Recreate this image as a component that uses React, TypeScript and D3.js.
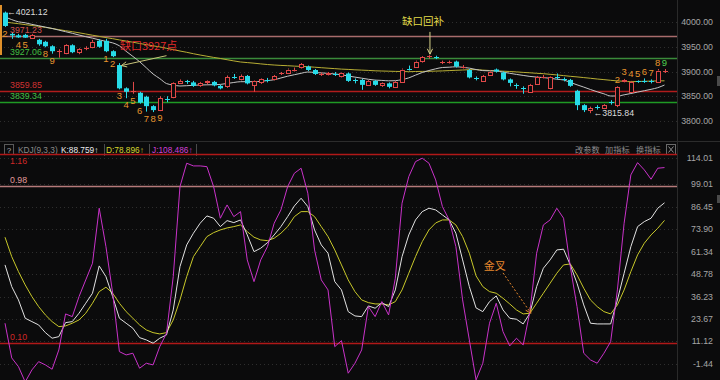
import React from 'react';
import * as d3 from 'd3';

// ---------- candles (index 0..98) ----------
const opens = [
  4019, 3976, 3973, 3974, 3968, 3964, 3960, 3951, 3941, 3937,
  3953, 3938, 3946, 3949, 3962, 3962, 3941, 3913, 3866, 3859,
  3857, 3849, 3830, 3822, 3845, 3848, 3877, 3880, 3878, 3872,
  3877, 3879, 3871, 3869, 3889, 3884, 3891, 3873, 3877, 3883,
  3884, 3895, 3898, 3903, 3908, 3910, 3903, 3894, 3894, 3895,
  3890, 3896, 3882, 3883, 3873, 3881, 3871, 3876, 3869, 3879,
  3906, 3910, 3920, 3930, 3930, 3918, 3918, 3920, 3909, 3903,
  3887, 3881, 3893, 3904, 3898, 3884, 3872, 3867, 3859, 3875,
  3888, 3866, 3889, 3885, 3883, 3861, 3832, 3822, 3828, 3826,
  3838, 3832, 3880, 3859, 3880, 3881, 3880, 3879, 3900,
];
const highs = [
  4021.12, 3980, 3976, 3976, 3976, 3966, 3962, 3953, 3945, 3955,
  3955, 3947, 3951, 3964, 3965, 3966, 3943, 3917, 3868, 3879,
  3859, 3851, 3832, 3850, 3850, 3878, 3884, 3883, 3881, 3879,
  3882, 3881, 3873, 3892, 3895, 3894, 3893, 3882, 3886, 3887,
  3893, 3899, 3906, 3908, 3917, 3912, 3905, 3898, 3899, 3899,
  3898, 3898, 3886, 3885, 3883, 3883, 3878, 3878, 3881, 3906,
  3912, 3922, 3931, 3933, 3932, 3922, 3922, 3922, 3913, 3905,
  3890, 3893, 3902, 3906, 3900, 3886, 3876, 3870, 3875, 3891,
  3893, 3890, 3896, 3888, 3885, 3863, 3834, 3829, 3832, 3834,
  3842, 3870, 3885, 3881, 3882, 3886, 3884, 3905, 3905,
];
const lows = [
  3990, 3966, 3968, 3968, 3966, 3952, 3949, 3936, 3928, 3935,
  3937, 3935, 3943, 3947, 3948, 3939, 3929, 3864, 3846, 3855,
  3835, 3819, 3818, 3820, 3838, 3846, 3875, 3875, 3869, 3869,
  3874, 3870, 3864, 3867, 3885, 3882, 3874, 3859, 3875, 3878,
  3882, 3893, 3896, 3900, 3906, 3901, 3893, 3891, 3892, 3891,
  3888, 3879, 3876, 3863, 3871, 3871, 3869, 3866, 3867, 3877,
  3902, 3908, 3918, 3926, 3925, 3915, 3916, 3908, 3906, 3886,
  3882, 3879, 3891, 3898, 3882, 3870, 3865, 3855, 3857, 3873,
  3886, 3864, 3884, 3880, 3869, 3822, 3818, 3815.84, 3823, 3824,
  3833, 3828, 3878, 3857, 3877, 3877, 3876, 3877, 3897,
];
const closes = [
  3992, 3973, 3969, 3968.5, 3974, 3955, 3951, 3941, 3942, 3953,
  3939, 3945, 3947, 3960, 3950, 3941, 3931, 3866, 3859, 3860,
  3837, 3830, 3822, 3846, 3844, 3876, 3881, 3879, 3871, 3877,
  3880, 3872, 3866, 3888, 3888, 3891, 3876, 3881, 3884, 3882,
  3891, 3897, 3904, 3904, 3915, 3903, 3895, 3895, 3897, 3894,
  3896, 3881, 3881, 3873, 3881, 3873, 3876, 3869, 3879, 3904,
  3905, 3920, 3929, 3931, 3929, 3920, 3920, 3910, 3910, 3888,
  3886, 3891, 3900, 3900, 3884, 3877, 3871, 3866, 3873, 3889,
  3889, 3888, 3888, 3884, 3871, 3832, 3822, 3826, 3827, 3832,
  3836, 3868, 3883, 3879, 3879, 3880, 3879, 3902, 3901,
];

// ---------- moving averages ----------
const maShort = [
  4010.1, 4004.8, 4000.4, 3998.4, 3995.2, 3992.5, 3989.7, 3986.9, 3983.6, 3980.4,
  3977.2, 3973.7, 3970.3, 3967.3, 3964.0, 3960.8, 3957.8, 3951.9, 3940.8, 3930.5,
  3919.8, 3907.5, 3895.0, 3885.7, 3875.6, 3872.7, 3870.7, 3871.3, 3872.1, 3872.7,
  3873.1, 3873.3, 3873.9, 3875.8, 3877.8, 3879.4, 3879.4, 3879.4, 3880.2, 3881.6,
  3883.4, 3886.9, 3890.5, 3893.5, 3896.4, 3899.0, 3898.0, 3897.2, 3896.2, 3895.0,
  3893.5, 3890.9, 3888.7, 3886.5, 3884.3, 3882.6, 3882.0, 3881.2, 3881.4, 3883.8,
  3887.1, 3892.7, 3898.0, 3902.0, 3905.4, 3908.1, 3908.7, 3909.5, 3908.5, 3906.8,
  3904.0, 3901.8, 3901.4, 3901.0, 3898.8, 3896.4, 3894.1, 3892.1, 3890.1, 3888.7,
  3887.7, 3886.3, 3884.4, 3882.8, 3878.0, 3873.1, 3868.5, 3863.6, 3859.0, 3854.9,
  3850.5, 3850.5, 3852.9, 3855.5, 3858.4, 3861.2, 3864.0, 3867.3, 3872.7,
];
const maLong = [
  4000.0, 3998.2, 3996.6, 3994.7, 3992.9, 3991.3, 3989.1, 3986.9, 3984.6, 3982.4,
  3980.4, 3978.2, 3975.8, 3973.3, 3970.9, 3968.5, 3966.3, 3963.8, 3961.4, 3959.2,
  3956.6, 3954.3, 3951.9, 3949.7, 3946.9, 3944.2, 3941.4, 3938.8, 3935.9, 3933.3,
  3930.9, 3928.5, 3926.3, 3923.8, 3921.4, 3919.2, 3918.0, 3916.8, 3915.4, 3914.1,
  3913.1, 3912.3, 3911.7, 3910.9, 3910.3, 3909.7, 3908.7, 3907.7, 3906.7, 3905.8,
  3904.8, 3904.2, 3903.4, 3902.8, 3902.2, 3901.4, 3901.0, 3900.6, 3900.2, 3900.0,
  3899.6, 3900.0, 3900.2, 3900.4, 3900.8, 3901.2, 3901.8, 3902.4, 3903.0, 3903.6,
  3903.8, 3902.8, 3902.0, 3901.4, 3900.6, 3900.0, 3899.2, 3898.2, 3897.4, 3896.4,
  3895.6, 3894.3, 3893.1, 3891.7, 3890.3, 3889.1, 3887.7, 3886.3, 3884.8, 3883.6,
  3882.2, 3881.0, 3880.2, 3879.4, 3879.8, 3880.2, 3880.6, 3881.0, 3881.2,
];

// ---------- KDJ(9,3,3) ----------
const kVals = [
  53.98, 41.83, 34.38, 24.13, 22.23, 20.38, 16.07, 12.94, 13.83, 21.67,
  22.23, 26.93, 32.53, 38.13, 53.42, 47.42, 36.23, 24.13, 21.33, 18.53,
  13.27, 11.98, 10.14, 12.94, 14.78, 28.78, 53.02, 65.17, 71.72, 77.32,
  81.41, 80.12, 75.42, 78.78, 77.66, 79.17, 70.77, 61.42, 63.33, 66.46,
  70.77, 75.42, 81.02, 87.01, 91.32, 86.62, 73.57, 65.17, 60.53, 44.62,
  39.98, 27.83, 25.42, 25.03, 31.02, 29.73, 32.87, 30.63, 39.98, 58.62,
  70.77, 79.17, 83.82, 85.72, 84.77, 81.97, 79.17, 71.72, 56.78, 41.83,
  29.90, 27.83, 33.43, 36.62, 28.78, 24.13, 23.57, 20.94, 26.93, 41.83,
  52.13, 56.78, 62.37, 62.77, 53.98, 43.73, 31.58, 21.33, 20.94, 20.94,
  20.94, 34.38, 49.33, 64.22, 75.42, 78.22, 80.12, 85.72, 88.759,
];
const dVals = [
  69.49, 58.62, 50.22, 42.78, 36.23, 30.63, 25.98, 22.23, 19.43, 19.82,
  21.33, 23.18, 26.93, 32.53, 39.03, 41.49, 38.13, 32.53, 27.83, 24.13,
  20.38, 17.58, 16.07, 15.34, 16.07, 23.18, 34.38, 47.42, 58.62, 64.22,
  69.82, 72.06, 73.57, 74.69, 75.42, 76.37, 72.62, 69.49, 67.97, 67.58,
  68.93, 71.72, 75.42, 81.02, 83.82, 83.82, 81.02, 75.42, 69.82, 62.37,
  53.98, 45.58, 39.03, 34.38, 32.87, 32.14, 32.14, 31.58, 33.43, 39.98,
  49.33, 58.62, 67.02, 73.57, 77.49, 79.17, 79.17, 76.37, 69.82, 60.53,
  47.82, 41.83, 39.03, 38.13, 35.33, 32.14, 28.78, 26.54, 26.93, 32.53,
  38.13, 43.73, 49.33, 53.98, 54.54, 48.38, 40.93, 34.38, 30.63, 27.83,
  26.54, 31.58, 39.98, 50.22, 59.57, 66.13, 70.77, 74.52, 78.896,
];
const jVals = [
  21.33, 1.91, -2.97, -11.53, -4.81, -0.17, -2.01, -4.42, 6.38, 26.54,
  25.03, 36.23, 45.58, 54.93, 85.72, 64.22, 38.13, 5.43, 3.58, 4.54,
  -3.86, -1.06, -2.01, 8.23, 15.73, 47.42, 97.82, 110.92, 109.41, 109.41,
  109.01, 97.82, 80.12, 87.57, 81.02, 83.82, 56.78, 44.62, 56.78, 64.22,
  77.32, 84.77, 97.82, 105.32, 108.12, 94.12, 62.37, 45.58, 39.98, 8.23,
  11.59, -6.66, -1.06, 6.38, 30.63, 25.03, 33.43, 25.98, 46.53, 88.52,
  103.41, 111.81, 113.72, 110.92, 101.57, 86.62, 79.17, 64.22, 34.38, 11.98,
  -10.41, -1.06, 21.33, 32.53, 16.63, 8.62, 12.94, 9.18, 27.83, 60.53,
  76.37, 79.17, 85.72, 80.12, 53.02, 30.63, 4.54, 0.79, -1.06, 4.54,
  11.03, 39.98, 77.32, 104.37, 111.25, 107.17, 101.96, 108.12, 108.486,
];

// ---------- axes / levels / labels ----------
const priceTicks = [4000, 3950, 3900, 3850, 3800];
const kdjTicks = [114.01, 99.01, 86.45, 73.9, 61.34, 48.78, 36.23, 23.67, 11.12, -1.44, -14.0];
const priceLevels = [3971.23, 3927.06, 3859.85, 3839.34];
const kdjLevels = [116, 98, 10];
const kdjLevelLabels = ['1.16', '0.98', '0.10'];

// TD sequential counts (visible ones)
const tdIdx = [0, 2, 3, 6, 7, 15, 16, 17, 18, 19, 20, 21, 22, 23, 91, 92, 93, 94, 95, 96, 97, 98];
const tdNum = ['2', '4', '5', '8', '9', '1', '2', '3', '4', '5', '6', '7', '8', '9', '2', '3', '4', '5', '6', '7', '8', '9'];
const tdAbove = [false, false, false, false, false, false, false, false, false, false, false, false, false, false, true, true, true, true, true, true, true, true];

const FONT = "'Liberation Sans', Arial, 'Noto Sans CJK SC', sans-serif";
const CJK = "'Noto Sans CJK SC', 'Liberation Sans', sans-serif";
const BG = '#0b0b0c';
const UP = '#e04848';
const DOWN = '#27dbe8';

export default function App() {
  const W = 720, H = 380;
  const n = closes.length;
  const x = d3.scalePoint<number>().domain(d3.range(n)).range([5, 664.5]);
  const yP = d3.scaleLinear().domain([3800, 4000]).range([121, 22]);
  const yK = d3.scaleLinear().domain([-1.44, 114.01]).range([363.9, 157.7]);
  const px = (i: number) => x(i) as number;

  const maPath = d3.line<number>().x((_, i) => px(i)).y((v) => yP(v)).curve(d3.curveMonotoneX);
  const kdjPath = d3.line<number>().x((_, i) => px(i)).y((v) => yK(v));

  const levelLine = ['#a86c6c', '#3a8a3a', '#b01c1c', '#1f9a24'];
  const levelText = ['#d05050', '#42c042', '#d03232', '#42c042'];
  const kLevelLine = ['#b01818', '#b57a7a', '#b01818'];
  const kLevelText = ['#d02828', '#e09a9a', '#d02828'];

  const candles = closes.map((c, i) => {
    const o = opens[i], h = highs[i], l = lows[i];
    const xi = Math.round(px(i));
    const cx = xi + 0.5;
    const up = c > o;
    const col = up ? UP : DOWN;
    const top = yP(Math.max(o, c));
    const bot = yP(Math.min(o, c));
    const bh = bot - top;
    if (bh < 1.2) {
      return (
        <g key={i}>
          <line x1={cx} x2={cx} y1={yP(h)} y2={yP(l)} stroke={col} />
          <line x1={xi - 2} x2={xi + 3} y1={Math.round(top) + 0.5} y2={Math.round(top) + 0.5} stroke={col} />
        </g>
      );
    }
    if (up) {
      return (
        <g key={i}>
          <line x1={cx} x2={cx} y1={yP(h)} y2={top} stroke={col} />
          <line x1={cx} x2={cx} y1={bot} y2={yP(l)} stroke={col} />
          <rect x={xi - 1.5} y={Math.round(top) + 0.5} width={4} height={Math.max(1, Math.round(bh))} fill={BG} stroke={col} />
        </g>
      );
    }
    return (
      <g key={i}>
        <line x1={cx} x2={cx} y1={yP(h)} y2={yP(l)} stroke={col} />
        <rect x={xi - 2} y={top} width={5} height={bh} fill={col} />
      </g>
    );
  });

  const arrowHead = (x2: number, y2: number, x1: number, y1: number, col: string, key: string) => {
    const a = Math.atan2(y2 - y1, x2 - x1);
    const L = 6, s = 0.45;
    return (
      <path
        key={key}
        d={`M${x2 - L * Math.cos(a - s)},${y2 - L * Math.sin(a - s)} L${x2},${y2} L${x2 - L * Math.cos(a + s)},${y2 - L * Math.sin(a + s)}`}
        fill="none"
        stroke={col}
        strokeWidth={1}
      />
    );
  };

  // annotation anchors (from data)
  const gapA = { x1: px(24), y1: yP(3932), x2: px(17) + 2, y2: yP(3912) };
  const fillA = { x: px(63) + 1, y1: yP(3980), y2: yP(3935) };
  const crossA = { x1: px(74), y1: yK(49.5), x2: px(78) + 1, y2: yK(kVals[78]) };

  return (
    <svg width={W} height={H} style={{ position: 'absolute', left: 0, top: 0, display: 'block' }} fontFamily={FONT}>
      <defs>
        <clipPath id="topClip"><rect x={0} y={0} width={677} height={141} /></clipPath>
        <clipPath id="botClip"><rect x={0} y={157} width={677} height={223} /></clipPath>
      </defs>
      <rect x={0} y={0} width={W} height={H} fill={BG} />

      {/* grid dotted - price */}
      {priceTicks.map((t) => (
        <line key={'pg' + t} x1={0} x2={677} y1={Math.round(yP(t)) + 0.5} y2={Math.round(yP(t)) + 0.5} stroke="#2e2e2e" strokeDasharray="1,3" />
      ))}
      {/* grid dotted - kdj */}
      {kdjTicks.map((t) => (
        <line key={'kg' + t} x1={0} x2={677} y1={Math.round(yK(t)) + 0.5} y2={Math.round(yK(t)) + 0.5} stroke="#2e2e2e" strokeDasharray="1,3" />
      ))}

      {/* panel separators */}
      <line x1={0} x2={W} y1={141.5} y2={141.5} stroke="#2c2c2c" />
      <line x1={677.5} x2={677.5} y1={0} y2={H} stroke="#2a2a2a" />

      {/* price levels */}
      <g clipPath="url(#topClip)">
        {priceLevels.map((p, k) => (
          <line key={'pl' + k} x1={0} x2={677} y1={Math.round(yP(p)) + 0.5} y2={Math.round(yP(p)) + 0.5} stroke={levelLine[k]} strokeWidth={1.3} />
        ))}
        {/* moving averages */}
        <path d={maPath(maLong) || ''} fill="none" stroke="#b8ae34" strokeWidth={1} />
        <path d={maPath(maShort) || ''} fill="none" stroke="#c4c4c4" strokeWidth={1} />
        {candles}
        {priceLevels.map((p, k) => (
          <text key={'plt' + k} x={10} y={yP(p) - 3} fontSize={8.8} fill={levelText[k]}>{p.toFixed(2)}</text>
        ))}
        {/* TD counts */}
        {tdIdx.map((i, k) => (
          <text
            key={'td' + k}
            x={px(i)}
            y={tdAbove[k] ? yP(highs[i]) - 7 : yP(lows[i]) + 6.5}
            fontSize={9.5}
            textAnchor="middle"
            dominantBaseline="central"
            fill={tdAbove[k] && tdNum[k] === '9' ? '#4fd04f' : '#e8962e'}
          >
            {tdNum[k]}
          </text>
        ))}
        {/* high / low marks */}
        <text x={px(0) + 2} y={yP(highs[0])} fontSize={8.8} fill="#dcdcdc" dominantBaseline="central">{'←' + highs[0].toFixed(2)}</text>
        <text x={px(87) + 3} y={yP(lows[87])} fontSize={8.8} fill="#dcdcdc" dominantBaseline="central">{'←' + lows[87].toFixed(2)}</text>
        {/* gap annotation */}
        <text x={px(17) + 0.5} y={yP(3927) - 8} fontSize={11} fill="#e02a2a" fontFamily={CJK}>缺口3927点</text>
        <line x1={gapA.x1} y1={gapA.y1} x2={gapA.x2} y2={gapA.y2} stroke="#c9c47a" />
        {arrowHead(gapA.x2, gapA.y2, gapA.x1, gapA.y1, '#c9c47a', 'ga')}
        <text x={px(63) - 6} y={yP(4004)} fontSize={10.5} fill="#e2dc4a" textAnchor="middle" dominantBaseline="central" fontFamily={CJK}>缺口回补</text>
        <line x1={fillA.x} y1={fillA.y1} x2={fillA.x} y2={fillA.y2} stroke="#d8d48a" />
        {arrowHead(fillA.x, fillA.y2, fillA.x, fillA.y1, '#d8d48a', 'fa')}
      </g>
      <rect x={0} y={5} width={2} height={50} fill="#e0902a" />

      {/* price axis labels */}
      {priceTicks.map((t) => (
        <text key={'pt' + t} x={713} y={yP(t)} fontSize={8.8} fill="#a6a6a6" textAnchor="end" dominantBaseline="central">{t.toFixed(2)}</text>
      ))}
      <rect x={717} y={76} width={3} height={10} fill="#4a4a4a" />

      {/* KDJ header */}
      <rect x={4.5} y={144.5} width={9} height={10} fill="none" stroke="#5a5a5a" />
      <text x={9} y={150} fontSize={8} fill="#b0b0b0" textAnchor="middle" dominantBaseline="central">?</text>
      <text x={18} y={153} fontSize={8.3} fill="#8a8a8a">KDJ(9,3,3)</text>
      <text x={61} y={153} fontSize={8.3} fill="#ececec">{'K:' + kVals[n - 1].toFixed(3) + '↑'}</text>
      <line x1={104.5} x2={104.5} y1={144} y2={156} stroke="#4a4a4a" />
      <text x={106} y={153} fontSize={8.3} fill="#d6d62c">{'D:' + dVals[n - 1].toFixed(3) + '↑'}</text>
      <line x1={149.5} x2={149.5} y1={144} y2={156} stroke="#4a4a4a" />
      <text x={152} y={153} fontSize={8.3} fill="#d040d8">{'J:' + jVals[n - 1].toFixed(3) + '↑'}</text>
      <line x1={196.5} x2={196.5} y1={144} y2={156} stroke="#4a4a4a" />
      <text x={575} y={153} fontSize={8.2} fill="#8c8c8c" fontFamily={CJK}>改参数</text>
      <text x={605} y={153} fontSize={8.2} fill="#8c8c8c" fontFamily={CJK}>加指标</text>
      <text x={636} y={153} fontSize={8.2} fill="#8c8c8c" fontFamily={CJK}>换指标</text>
      <rect x={666.5} y={144.5} width={9} height={10} fill="none" stroke="#6a6a6a" />
      <path d="M668.5,146.5 L673.5,152.5 M673.5,146.5 L668.5,152.5" stroke="#8a8a8a" />

      {/* KDJ panel */}
      <g clipPath="url(#botClip)">
        {kdjLevels.map((v, k) => (
          <line key={'kl' + k} x1={0} x2={677} y1={Math.round(yK(v)) + 0.5} y2={Math.round(yK(v)) + 0.5} stroke={kLevelLine[k]} strokeWidth={1.3} />
        ))}
        <path d={kdjPath(dVals) || ''} fill="none" stroke="#c8c82a" strokeWidth={1} />
        <path d={kdjPath(kVals) || ''} fill="none" stroke="#e2e2e2" strokeWidth={1} />
        <path d={kdjPath(jVals) || ''} fill="none" stroke="#c932c9" strokeWidth={1} />
        <text x={10} y={yK(kdjLevels[0]) + 10} fontSize={8.8} fill={kLevelText[0]}>{kdjLevelLabels[0]}</text>
        <text x={10} y={yK(kdjLevels[1]) - 3} fontSize={8.8} fill={kLevelText[1]}>{kdjLevelLabels[1]}</text>
        <text x={10} y={yK(kdjLevels[2]) - 3} fontSize={8.8} fill={kLevelText[2]}>{kdjLevelLabels[2]}</text>
        <text x={px(71) + 1} y={yK(53.9)} fontSize={11} fill="#e8892e" dominantBaseline="central" fontFamily={CJK}>金叉</text>
        <line x1={crossA.x1} y1={crossA.y1} x2={crossA.x2} y2={crossA.y2} stroke="#e8892e" strokeDasharray="2,2" />
        {arrowHead(crossA.x2, crossA.y2, crossA.x1, crossA.y1, '#e8892e', 'ca')}
      </g>
      <line x1={0} x2={677} y1={154.5} y2={154.5} stroke="#b01818" strokeWidth={1.3} />

      {/* KDJ axis labels */}
      {kdjTicks.map((t) => (
        <text key={'kt' + t} x={713} y={yK(t)} fontSize={8.8} fill="#a6a6a6" textAnchor="end" dominantBaseline="central">{t.toFixed(2)}</text>
      ))}
      <rect x={717} y={195} width={3} height={8} fill="#4a4a4a" />
    </svg>
  );
}
